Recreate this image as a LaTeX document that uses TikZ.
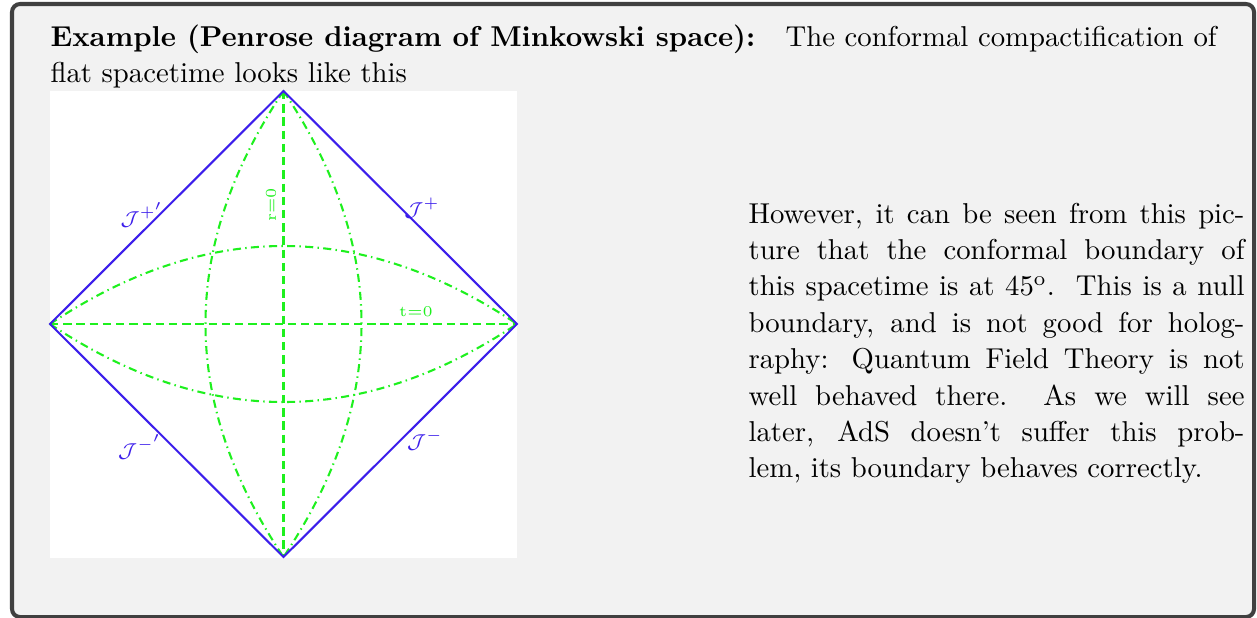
\documentclass[tikz,border=0pt]{standalone}
\usepackage{amsmath}
\definecolor{boxfill}{RGB}{242,242,242}
\definecolor{boxline}{RGB}{64,64,64}
\definecolor{scri}{RGB}{60,30,235}
\definecolor{lime}{RGB}{30,240,30}
\begin{document}
\begin{tikzpicture}[x=0.348pt,y=-0.348pt,
  nullline/.style={scri,line width=0.72pt},
  axisline/.style={lime,line width=0.72pt,dash pattern=on 2.9pt off 1.7pt},
  curveline/.style={lime,line width=0.72pt,dash pattern=on 2.8pt off 1.5pt on 0.5pt off 1.5pt},
  scrilabel/.style={text=scri,font=\fontsize{7.3}{8}\selectfont,inner sep=0pt},
  axislabel/.style={text=lime,font=\fontsize{5.2}{6}\selectfont,inner sep=0pt},
  prose/.style={anchor=base west,inner sep=0pt,font=\fontsize{10}{12.67}\selectfont}]
\useasboundingbox (0,0) rectangle (1257,617);
\draw[boxline, fill=boxfill, line width=1.4pt, rounded corners=2.8pt] (12,4) rectangle (1254,617);
% picture area
\fill[white] (50,91) rectangle (517,557.5);
\coordinate (T) at (283.5,91);
\coordinate (L) at (50,324);
\coordinate (R) at (517,324);
\coordinate (B) at (283.5,557);
% curves
\draw[curveline] (L) .. controls (205.7,220) and (361.3,220) .. (R);
\draw[curveline] (L) .. controls (205.7,428) and (361.3,428) .. (R);
\draw[curveline] (T) .. controls (179.5,246.3) and (179.5,401.7) .. (B);
\draw[curveline] (T) .. controls (387.5,246.3) and (387.5,401.7) .. (B);
\draw[axisline] (T) -- (B);
\draw[axisline] (L) -- (R);
\draw[nullline] (L) -- (T) -- (R) -- (B) -- cycle;
% labels
\node[scrilabel] (sp1) at (142,215) {$\mathcal{J}^{+'}$};
\node[scrilabel] (sp2) at (422,208) {$\mathcal{J}^{+}$};
\node[scrilabel] (sm1) at (140,447) {$\mathcal{J}^{-'}$};
\node[scrilabel] (sm2) at (425,440) {$\mathcal{J}^{-}$};
\node[axislabel, rotate=90] (r0) at (271,205) {r=0};
\node[axislabel] (t0) at (416,312) {t=0};
% text
\node[prose] (title) at (50,46) {\textbf{Example (Penrose diagram of Minkowski space):}};
\node[prose] (intro1) at (785,46) {The conformal compactification of};
\node[prose] (intro2) at (50,82) {flat spacetime looks like this};
\node[prose] (para) at (748,223) {\parbox[t]{172.6pt}{%
\makebox[\linewidth][s]{However, it can be seen from this pic-}\\
\makebox[\linewidth][s]{ture that the conformal boundary of}\\
\makebox[\linewidth][s]{this spacetime is at $45^{\mathrm{o}}$.\ \ This is a null}\\
\makebox[\linewidth][s]{boundary, and is not good for holog-}\\
\makebox[\linewidth][s]{raphy: Quantum Field Theory is not}\\
\makebox[\linewidth][s]{well behaved there.\ \ As we will see}\\
\makebox[\linewidth][s]{later, AdS doesn't suffer this prob-}\\
lem, its boundary behaves correctly.}};
\end{tikzpicture}
\end{document}
